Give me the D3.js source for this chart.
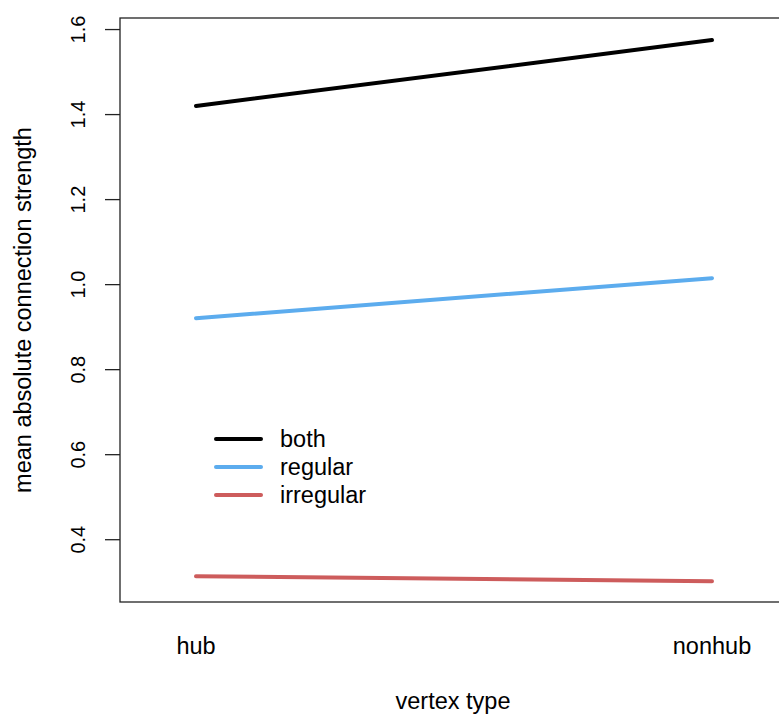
<!DOCTYPE html>
<html>
<head>
<meta charset="utf-8">
<script src="https://cdn.jsdelivr.net/npm/d3@7"></script>
<style>
  body { margin: 0; background: #fff; }
  svg text { font-family: "Liberation Sans", Arial, Helvetica, sans-serif; fill: #000; }
</style>
</head>
<body>
<div class="chart"></div>
<script>
// categories on the x axis
const vertexTypes = ["hub", "nonhub"];
// one line per group
const groups = ["both", "regular", "irregular"];
const groupColors = ["#000000", "#5CACEE", "#CD5C5C"];
const bothValues = [1.419, 1.574];
const regularValues = [0.920, 1.014];
const irregularValues = [0.313, 0.301];
const yTicks = [0.4, 0.6, 0.8, 1.0, 1.2, 1.4, 1.6];

const series = [bothValues, regularValues, irregularValues];

const config = {
    width: 779,
    height: 715,
    box: {left: 120, top: 18, right: 786, bottom: 602}
};

const {width, height, box} = config;

const svg = d3.select(".chart").append("svg")
    .attr("width", width)
    .attr("height", height);

const x = d3.scalePoint()
    .domain(vertexTypes)
    .range([196, 712]);

const y = d3.scaleLinear()
    .domain([0.2523, 1.626])
    .range([box.bottom, box.top]);

// plot frame
svg.append("rect")
    .attr("x", box.left)
    .attr("y", box.top)
    .attr("width", box.right - box.left)
    .attr("height", box.bottom - box.top)
    .attr("fill", "none")
    .attr("stroke", "#222")
    .attr("stroke-width", 1.3);

// y axis
const yAxis = d3.axisLeft(y)
    .tickValues(yTicks)
    .tickSize(15)
    .tickPadding(0)
    .tickFormat(d3.format(".1f"));

const yg = svg.append("g")
    .attr("transform", `translate(${box.left},0)`)
    .call(yAxis);

yg.select(".domain").remove();
yg.selectAll(".tick line").attr("stroke", "#222").attr("stroke-width", 1.3);
yg.selectAll(".tick text")
    .attr("font-size", 20)
    .attr("x", null)
    .attr("dy", null)
    .attr("text-anchor", "middle")
    .attr("transform", "translate(-35,0) rotate(-90)");

// x tick labels (no ticks)
svg.append("g")
    .selectAll("text")
    .data(vertexTypes)
    .join("text")
    .attr("x", d => x(d))
    .attr("y", 654)
    .attr("text-anchor", "middle")
    .attr("font-size", 23.5)
    .text(d => d);

// axis titles
svg.append("text")
    .attr("x", (box.left + box.right) / 2)
    .attr("y", 709)
    .attr("text-anchor", "middle")
    .attr("font-size", 23.5)
    .text("vertex type");

svg.append("text")
    .attr("transform", `translate(31,${(box.top + box.bottom) / 2}) rotate(-90)`)
    .attr("text-anchor", "middle")
    .attr("font-size", 23.5)
    .text("mean absolute connection strength");

// lines
const line = d3.line()
    .x((d, i) => x(vertexTypes[i]))
    .y(d => y(d));

svg.append("g")
    .selectAll("path")
    .data(series)
    .join("path")
    .attr("d", line)
    .attr("fill", "none")
    .attr("stroke", (d, i) => groupColors[i])
    .attr("stroke-width", 4)
    .attr("stroke-linecap", "round");

// legend
const legend = svg.append("g")
    .attr("transform", "translate(216,439)");

const item = legend.selectAll("g")
    .data(groups)
    .join("g")
    .attr("transform", (d, i) => `translate(0,${i * 28})`);

item.append("line")
    .attr("x1", 0)
    .attr("x2", 45)
    .attr("stroke", (d, i) => groupColors[i])
    .attr("stroke-width", 4)
    .attr("stroke-linecap", "round");

item.append("text")
    .attr("x", 64)
    .attr("dy", "0.36em")
    .attr("font-size", 23.5)
    .text(d => d);
</script>
</body>
</html>
